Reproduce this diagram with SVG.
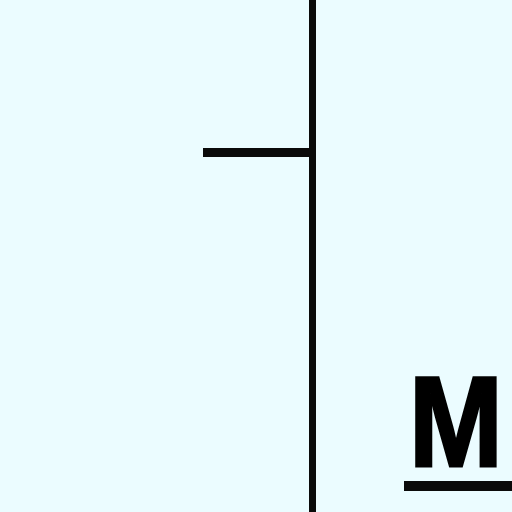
<svg xmlns="http://www.w3.org/2000/svg" width="512" height="512" viewBox="0 0 512 512">
<style>
.ln{fill:#0a0a0a}
.lbl{font-family:"Liberation Sans",Arial,sans-serif;font-weight:bold;font-size:128px;fill:#000;stroke:#000;stroke-width:3;stroke-linejoin:miter}
</style>
<rect width="512" height="512" fill="#ebfcff"/>
<g id="connectors">
<rect class="ln" x="309" y="0" width="7" height="512"/>
<rect class="ln" x="203" y="148" width="109" height="9"/>
</g>
<g id="label-M">
<text class="lbl" transform="translate(409,465.5) scale(0.88,1)" x="0" y="0">M</text>
<rect class="ln" x="404" y="481" width="108" height="10"/>
</g>
</svg>
